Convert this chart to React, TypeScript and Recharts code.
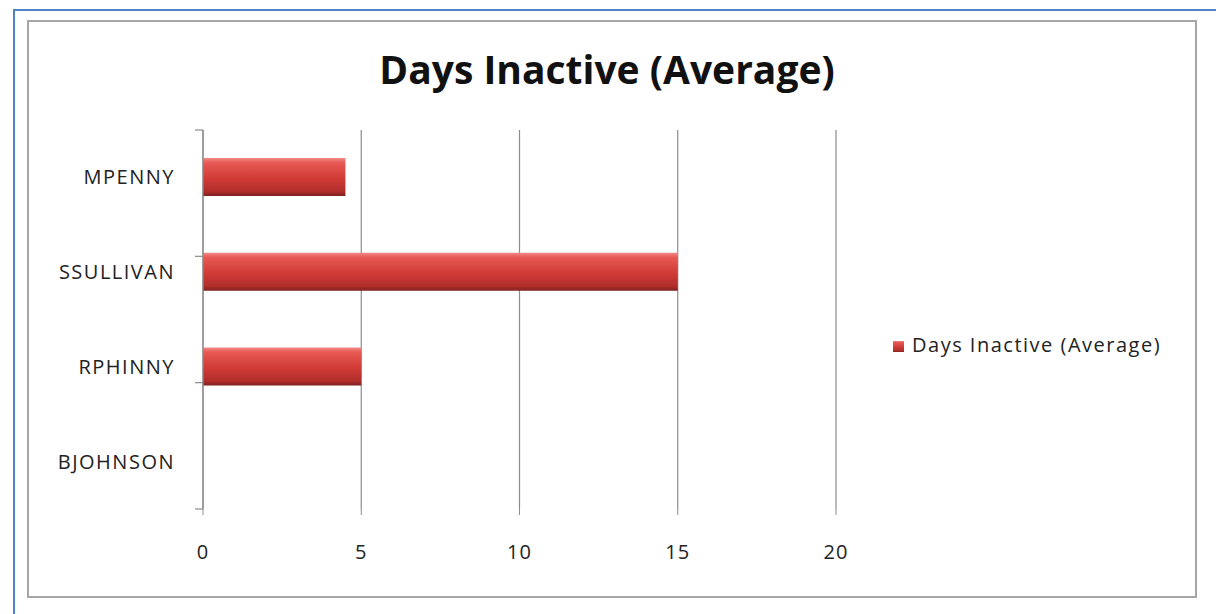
import { BarChart, Bar, XAxis, YAxis, CartesianGrid, Legend } from 'recharts';

const users = ['MPENNY', 'SSULLIVAN', 'RPHINNY', 'BJOHNSON'];
const daysInactive = [4.5, 15, 5, 0];
const xTicks = [0, 5, 10, 15, 20];
const bandEdges = [0, 1, 2, 3, 4];

const FONT = '"Open Sans", "Noto Sans", sans-serif';

const data = users.map((name, i) => ({ name, days: daysInactive[i] }));

const App = () => {
    return (
        <div style={{ position: 'absolute', left: 0, top: 0, width: 1216, height: 614, background: '#fff', overflow: 'hidden' }}>
            {/* outer blue frame */}
            <div style={{ position: 'absolute', left: 13, top: 9, width: 1300, height: 700, borderLeft: '2px solid #4f81c7', borderTop: '2px solid #4f81c7' }} />
            {/* chart area border */}
            <div style={{ position: 'absolute', left: 27, top: 20, width: 1166, height: 574, border: '2px solid #a6a6a6' }} />
            <div style={{ position: 'absolute', left: 0, top: 42, width: 1214, textAlign: 'center', fontFamily: FONT, fontWeight: 700, fontSize: 39, color: '#111' }}>
                Days Inactive (Average)
            </div>
            <div style={{ position: 'absolute', left: 0, top: 0, clipPath: 'inset(24px 0 0 0)' }}>
                <BarChart
                    width={1216}
                    height={614}
                    data={data}
                    layout="vertical"
                    margin={{ top: 130, right: 380, bottom: 55, left: 28 }}
                >
                    <defs>
                        <linearGradient id="barFill" x1="0" y1="0" x2="0" y2="1">
                            <stop offset="0%" stopColor="#f08a86" />
                            <stop offset="12%" stopColor="#e85a55" />
                            <stop offset="55%" stopColor="#d03a36" />
                            <stop offset="88%" stopColor="#b02e2b" />
                            <stop offset="100%" stopColor="#7e2220" />
                        </linearGradient>
                    </defs>
                    <CartesianGrid horizontal={false} stroke="#8c8c8c" strokeWidth={1.2} />
                    <XAxis
                        type="number"
                        domain={[0, 20]}
                        ticks={xTicks}
                        axisLine={false}
                        tickLine={{ stroke: '#8c8c8c' }}
                        tickSize={6}
                        tickMargin={30}
                        height={50}
                        tick={{ fill: '#222', fontFamily: FONT, fontSize: 20, letterSpacing: 1 }}
                    />
                    <YAxis
                        type="category"
                        dataKey="name"
                        width={175}
                        axisLine={false}
                        tickLine={false}
                        tickMargin={22}
                        tick={{ fill: '#222', fontFamily: FONT, fontSize: 20, letterSpacing: 1.5 }}
                    />
                    {/* ticks between categories, as in the original */}
                    <YAxis
                        yAxisId="edges"
                        type="number"
                        domain={[0, 4]}
                        ticks={bandEdges}
                        reversed
                        mirror
                        width={1}
                        tickFormatter={() => ''}
                        tickSize={-8}
                        axisLine={{ stroke: '#8c8c8c', strokeWidth: 1.2 }}
                        tickLine={{ stroke: '#8c8c8c', strokeWidth: 1.2 }}
                    />
                    <Legend
                        layout="vertical"
                        align="center"
                        verticalAlign="middle"
                        iconType="square"
                        iconSize={11}
                        wrapperStyle={{ left: 893, top: 331, width: 300, fontFamily: FONT, fontSize: 20, letterSpacing: 1.5 }}
                        formatter={(v: string) => <span style={{ color: '#222', marginLeft: 4 }}>{v}</span>}
                    />
                    <Bar
                        dataKey="days"
                        name="Days Inactive (Average)"
                        fill="url(#barFill)"
                        legendType="square"
                        barSize={38}
                        isAnimationActive={false}
                    />
                </BarChart>
            </div>
        </div>
    );
};

export default App;
